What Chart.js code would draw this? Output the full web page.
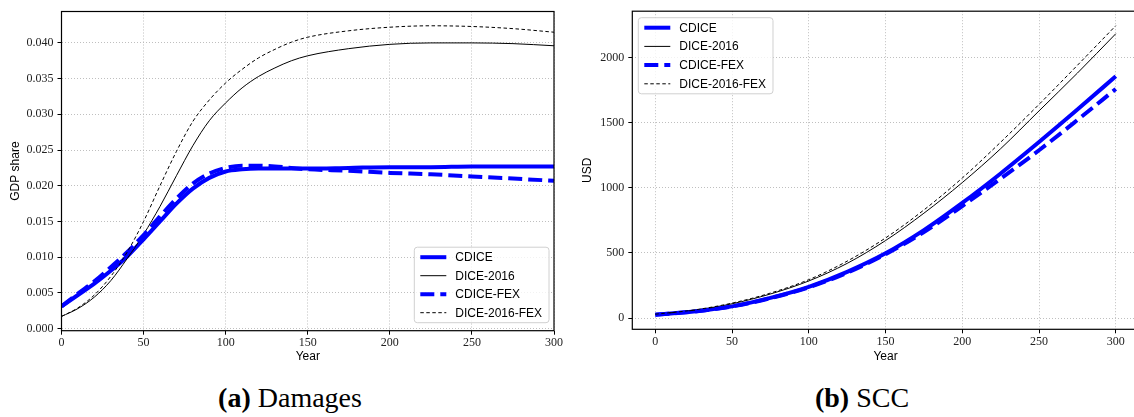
<!DOCTYPE html>
<html>
<head>
<meta charset="utf-8">
<script src="https://cdn.jsdelivr.net/npm/chart.js@4"></script>
<style>
  html, body { margin: 0; padding: 0; background: #fff; }
  body { position: relative; width: 1134px; height: 417px; overflow: hidden; }
  canvas { position: absolute; top: 0; }
  #damagesChart { left: 0; }
  #sccChart { left: 570px; }
  .caption {
    position: absolute; top: 384px;
    font-family: "Liberation Serif", "Times New Roman", serif;
    font-size: 28px; line-height: 28px; white-space: nowrap;
    transform: translateX(-50%); color: #000;
  }
  .caption b { font-weight: bold; }
</style>
</head>
<body>
<canvas id="damagesChart" width="566" height="372"></canvas>
<canvas id="sccChart" width="600" height="372"></canvas>
<div class="caption" style="left:290px"><b>(a)</b> Damages</div>
<div class="caption" style="left:862px"><b>(b)</b> SCC</div>
<script>
// Damages as a share of GDP, by year
const damageYears = [0, 10, 20, 30, 40, 50, 60, 70, 80, 90, 100, 110, 120, 130, 140, 150, 175, 200, 225, 250, 275, 300];
const damagesCdice = [0.0031, 0.0047, 0.0063, 0.0081, 0.0101, 0.0125, 0.0150, 0.0175, 0.0196, 0.0211, 0.0220, 0.0223, 0.0224, 0.0224, 0.0224, 0.0224, 0.0225, 0.0226, 0.0226, 0.0227, 0.0227, 0.0227];
const damagesDice2016 = [0.0017, 0.0028, 0.0044, 0.0067, 0.0098, 0.0132, 0.0171, 0.0214, 0.0256, 0.0291, 0.0316, 0.0337, 0.0353, 0.0365, 0.0375, 0.0382, 0.0392, 0.0398, 0.0400, 0.0400, 0.0399, 0.0396];
const damagesCdiceFex = [0.0031, 0.0049, 0.0066, 0.0086, 0.0107, 0.0131, 0.0157, 0.0182, 0.0203, 0.0217, 0.0225, 0.0228, 0.0228, 0.0227, 0.0225, 0.0223, 0.0221, 0.0218, 0.0216, 0.0213, 0.0210, 0.0207];
const damagesDice2016Fex = [0.0017, 0.0029, 0.0047, 0.0073, 0.0107, 0.0150, 0.0200, 0.0248, 0.0290, 0.0320, 0.0344, 0.0363, 0.0379, 0.0391, 0.0401, 0.0408, 0.0417, 0.0422, 0.0424, 0.0423, 0.0420, 0.0415];

// Social cost of carbon (USD), by year
const sccYears = [0, 25, 50, 75, 100, 125, 150, 175, 200, 225, 250, 275, 300];
const sccCdice = [25, 50, 90, 155, 240, 355, 497, 675, 884, 1110, 1351, 1600, 1856];
const sccDice2016 = [30, 60, 110, 185, 285, 420, 595, 805, 1040, 1300, 1590, 1880, 2182];
const sccCdiceFex = [25, 50, 90, 153, 236, 348, 490, 660, 860, 1070, 1288, 1520, 1758];
const sccDice2016Fex = [30, 62, 115, 192, 295, 437, 615, 830, 1075, 1350, 1640, 1940, 2244];

// axis ticks
const yearTicks = [0, 50, 100, 150, 200, 250, 300];
const damageTicks = [0, 0.005, 0.010, 0.015, 0.020, 0.025, 0.030, 0.035, 0.040];
const sccTicks = [0, 500, 1000, 1500, 2000];

const seriesNames = ['CDICE', 'DICE-2016', 'CDICE-FEX', 'DICE-2016-FEX'];

const lineStyles = [
  { borderColor: 'blue', borderWidth: 4, order: 4 },
  { borderColor: 'black', borderWidth: 1, order: 3 },
  { borderColor: 'blue', borderWidth: 4, borderDash: [14, 6], order: 2 },
  { borderColor: 'black', borderWidth: 1, borderDash: [3.5, 2.5], order: 1 }
];

const serifTicks = { family: '"Liberation Serif", "Times New Roman", serif', size: 12 };
const sansFont = { family: '"Liberation Sans", Arial, sans-serif', size: 12 };

function makeDatasets(xs, seriesList) {
  return seriesList.map((ys, i) => Object.assign({
    label: seriesNames[i],
    data: xs.map((x, j) => ({ x: x, y: ys[j] })),
    pointRadius: 0,
    fill: false,
    cubicInterpolationMode: 'monotone'
  }, lineStyles[i]));
}

// black box around the plot area, like matplotlib spines
const frameBox = {
  id: 'frameBox',
  afterDatasetsDraw(chart) {
    const { ctx, chartArea: a } = chart;
    ctx.save();
    ctx.strokeStyle = '#000';
    ctx.lineWidth = 1.2;
    ctx.strokeRect(a.left, a.top, a.right - a.left, a.bottom - a.top);
    ctx.restore();
  }
};

// legend box inside the plot, with line samples
const boxLegend = {
  id: 'boxLegend',
  afterDatasetsDraw(chart, args, opts) {
    const { ctx, chartArea: a } = chart;
    const sets = chart.data.datasets;
    const rowGap = opts.rowGap;
    ctx.save();
    ctx.font = '12px "Liberation Sans", Arial, sans-serif';
    const textW = Math.max(...sets.map(d => ctx.measureText(d.label).width));
    const w = 6 + 26 + 9 + textW + 7;
    const h = 20 + rowGap * (sets.length - 1);
    const x = opts.corner === 'lowerRight' ? a.right - opts.insetX - w : a.left + opts.insetX;
    const y = opts.corner === 'lowerRight' ? a.bottom - opts.insetY - h : a.top + opts.insetY;

    ctx.beginPath();
    ctx.roundRect(x, y, w, h, 3);
    ctx.fillStyle = 'rgba(255,255,255,0.8)';
    ctx.fill();
    ctx.strokeStyle = '#d0d0d0';
    ctx.lineWidth = 1;
    ctx.stroke();

    sets.forEach((d, i) => {
      const cy = y + 10 + i * rowGap;
      ctx.beginPath();
      ctx.setLineDash(d.borderDash || []);
      ctx.strokeStyle = d.borderColor;
      ctx.lineWidth = d.borderWidth;
      ctx.moveTo(x + 6, cy);
      ctx.lineTo(x + 32, cy);
      ctx.stroke();
      ctx.setLineDash([]);
      ctx.fillStyle = '#000';
      ctx.textBaseline = 'middle';
      ctx.fillText(d.label, x + 41, cy + 0.5);
    });
    ctx.restore();
  }
};

function gridOpts() {
  return {
    color: '#b8b8b8',
    lineWidth: 0.9,
    drawTicks: true,
    tickLength: 4,
    tickColor: '#000',
    tickWidth: 1,
    tickBorderDash: []
  };
}

function fixedTicks(values) {
  return scale => { scale.ticks = values.map(v => ({ value: v })); };
}

function makeChart(canvasId, xs, seriesList, cfg) {
  return new Chart(document.getElementById(canvasId), {
    type: 'line',
    data: { datasets: makeDatasets(xs, seriesList) },
    options: {
      responsive: false,
      animation: false,
      events: [],
      layout: { padding: cfg.padding },
      plugins: {
        legend: { display: false },
        tooltip: { enabled: false },
        boxLegend: cfg.legend
      },
      scales: {
        x: {
          type: 'linear',
          min: cfg.xMin,
          max: cfg.xMax,
          grid: gridOpts(),
          border: { display: false, dash: [1, 2] },
          afterBuildTicks: fixedTicks(yearTicks),
          ticks: {
            maxRotation: 0,
            autoSkip: false,
            padding: 1,
            color: '#222',
            font: serifTicks,
            callback: v => String(v)
          },
          title: { display: true, text: 'Year', color: '#000', font: sansFont, padding: { top: 0, bottom: 8 } },
          afterFit: s => { s.height = cfg.xAxisHeight; }
        },
        y: {
          type: 'linear',
          min: cfg.yMin,
          max: cfg.yMax,
          grid: gridOpts(),
          border: { display: false, dash: [1, 2] },
          afterBuildTicks: fixedTicks(cfg.yTicks),
          ticks: {
            autoSkip: false,
            padding: 4,
            color: '#222',
            font: serifTicks,
            callback: cfg.yFormat
          },
          title: { display: true, text: cfg.yTitle, color: '#000', font: sansFont, padding: { top: cfg.yTitlePad, bottom: 0 } },
          afterFit: s => { s.width = cfg.yAxisWidth; }
        }
      }
    },
    plugins: [frameBox, boxLegend]
  });
}

makeChart('damagesChart', damageYears,
  [damagesCdice, damagesDice2016, damagesCdiceFex, damagesDice2016Fex], {
    padding: { left: 0, top: 11.5, right: 12, bottom: 0 },
    xMin: 0, xMax: 300,
    yMin: -0.0003, yMax: 0.0444,
    yTicks: damageTicks,
    yFormat: v => v.toFixed(3),
    yTitle: 'GDP share',
    yTitlePad: 8.5,
    yAxisWidth: 61.5,
    xAxisHeight: 41.3,
    legend: { corner: 'lowerRight', insetX: 5, insetY: 8, rowGap: 18.5 }
  });

makeChart('sccChart', sccYears,
  [sccCdice, sccDice2016, sccCdiceFex, sccDice2016Fex], {
    padding: { left: 0, top: 7.3, right: 31.2, bottom: 0 },
    xMin: -15, xMax: 315,
    yMin: -86, yMax: 2355,
    yTicks: sccTicks,
    yFormat: v => String(Math.round(v)),
    yTitle: 'USD',
    yTitlePad: 10.8,
    yAxisWidth: 62.3,
    xAxisHeight: 42.7,
    legend: { corner: 'upperLeft', insetX: 6, insetY: 6.5, rowGap: 18.7 }
  });
</script>
</body>
</html>
